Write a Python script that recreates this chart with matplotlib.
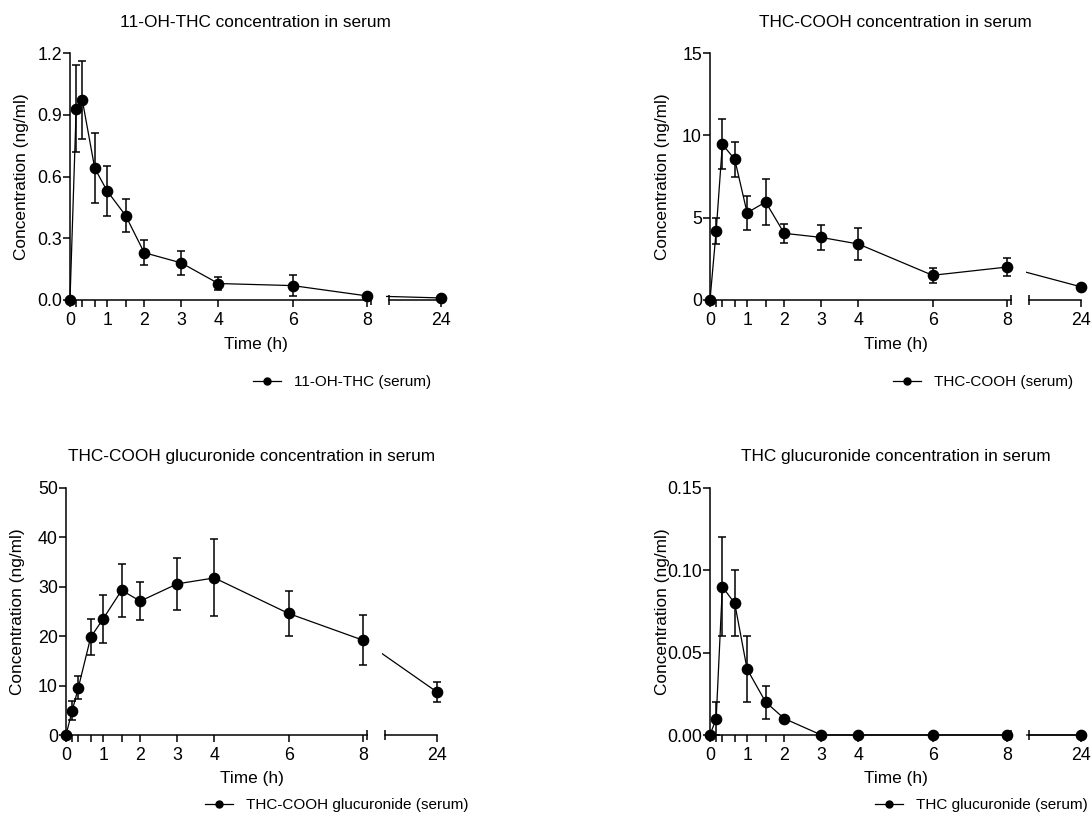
import numpy as np
import matplotlib
matplotlib.use("Agg")
import matplotlib.pyplot as plt
from matplotlib.lines import Line2D

plt.rcParams['font.family'] = ['Liberation Sans', 'DejaVu Sans']

# sampling times in hours (10, 20, 40 min ... 24 h)
times = [0, 1 / 6, 1 / 3, 2 / 3, 1, 1.5, 2, 3, 4, 6, 8, 24]

oh_thc = [0, 0.93, 0.97, 0.64, 0.53, 0.41, 0.23, 0.18, 0.08, 0.07, 0.02, 0.01]
oh_thc_sd = [0, 0.21, 0.19, 0.17, 0.12, 0.08, 0.06, 0.06, 0.03, 0.05, 0.01, 0.005]

cooh = [0, 4.2, 9.45, 8.55, 5.3, 5.95, 4.05, 3.8, 3.4, 1.5, 2.0, 0.8]
cooh_sd = [0, 0.77, 1.52, 1.06, 1.02, 1.42, 0.58, 0.75, 0.97, 0.44, 0.53, 0.1]

cooh_gluc = [0, 4.9, 9.6, 19.8, 23.5, 29.3, 27.1, 30.6, 31.8, 24.6, 19.2, 8.7]
cooh_gluc_sd = [0, 1.9, 2.3, 3.65, 4.8, 5.35, 3.8, 5.2, 7.8, 4.6, 5.0, 2.0]

thc_gluc = [0, 0.01, 0.09, 0.08, 0.04, 0.02, 0.01, 0, 0, 0, 0, 0]
thc_gluc_sd = [0, 0.01, 0.03, 0.02, 0.02, 0.01, 0, 0, 0, 0, 0, 0]

xticks = [0, 1, 2, 3, 4, 6, 8, 24]
xminor = [1 / 6, 1 / 3, 2 / 3, 1.5]


# broken time axis: 0-8 h linear, 8-24 h squeezed into two units
def fwd(t):
    t = np.asarray(t, dtype=float)
    return np.where(t <= 8, t, 8 + (t - 8) / 8)


def inv(p):
    p = np.asarray(p, dtype=float)
    return np.where(p <= 8, p, 8 + (p - 8) * 8)


W, H = 1092, 818
fig = plt.figure(figsize=(W / 100, H / 100), dpi=100)

panels = [
    dict(rect=(70, 53), y=oh_thc, sd=oh_thc_sd, ylim=1.2,
         yticks=[0, 0.3, 0.6, 0.9, 1.2], fmt='{:.1f}',
         title='11-OH-THC concentration in serum',
         label='11-OH-THC (serum)', leg=(253, 382)),
    dict(rect=(710, 53), y=cooh, sd=cooh_sd, ylim=15,
         yticks=[0, 5, 10, 15], fmt='{:.0f}',
         title='THC-COOH concentration in serum',
         label='THC-COOH (serum)', leg=(893, 382)),
    dict(rect=(66, 488), y=cooh_gluc, sd=cooh_gluc_sd, ylim=50,
         yticks=[0, 10, 20, 30, 40, 50], fmt='{:.0f}',
         title='THC-COOH glucuronide concentration in serum',
         label='THC-COOH glucuronide (serum)', leg=(205, 805)),
    dict(rect=(710, 488), y=thc_gluc, sd=thc_gluc_sd, ylim=0.15,
         yticks=[0, 0.05, 0.10, 0.15], fmt='{:.2f}',
         title='THC glucuronide concentration in serum',
         label='THC glucuronide (serum)', leg=(875, 805)),
]

aw, ah = 371, 247

for p in panels:
    x0, top = p['rect']
    ax = fig.add_axes([x0 / W, 1 - (top + ah) / H, aw / W, ah / H])
    ax.set_xscale('function', functions=(fwd, inv))
    ax.set_xlim(0, 24)
    ax.set_ylim(0, p['ylim'])

    # connecting line, hidden inside the axis break
    ax.plot(times, p['y'], color='black', lw=0.9, zorder=2, clip_on=False)
    ax.axvspan(9.04, 12.24, ymin=-0.05, ymax=1, color='white', zorder=2.5,
               lw=0, clip_on=False)
    ax.errorbar(times, p['y'], yerr=p['sd'], fmt='o', color='black',
                ms=7.4, elinewidth=1.1, capsize=3.0, capthick=1.1,
                zorder=3, clip_on=False)

    ax.spines['top'].set_visible(False)
    ax.spines['right'].set_visible(False)
    ax.spines['bottom'].set_visible(False)
    ax.spines['left'].set_linewidth(1.1)

    # two pieces of the x axis with break bars
    ax.plot([0, 8.8], [0, 0], color='black', lw=1.1, clip_on=False, zorder=2.6)
    ax.plot([12.72, 24], [0, 0], color='black', lw=1.1, clip_on=False, zorder=2.6)
    ax.plot([8.8, 12.72], [0, 0], ls='none', marker='|', ms=6.5, mew=1.1,
            color='black', clip_on=False, zorder=2.6)

    ax.set_xticks(xticks)
    ax.set_xticklabels([str(t) for t in xticks])
    ax.set_xticks(xminor, minor=True)
    ax.tick_params(axis='x', which='both', direction='out', length=5.3,
                   width=1.1, labelsize=12.8, pad=3)
    ax.set_yticks(p['yticks'])
    ax.set_yticklabels([p['fmt'].format(v) for v in p['yticks']])
    ax.tick_params(axis='y', direction='out', length=5.3, width=1.1,
                   labelsize=12.8, pad=0.5)

    ax.set_xlabel('Time (h)', fontsize=12.4)
    ax.xaxis.label.set_va('center')
    ax.xaxis.set_label_coords(0.5, -44 / ah)
    ax.set_ylabel('Concentration (ng/ml)', fontsize=12.4)
    ax.yaxis.label.set_va('center')
    ax.yaxis.set_label_coords(-48 / aw, 0.5)
    ax.set_title(p['title'], fontsize=12.4, y=1 + 31 / ah, va='center', pad=0)

    handle = Line2D([], [], color='black', lw=0.9, marker='o', ms=5)
    lx, ly = p['leg']
    ax.legend([handle], [p['label']], loc='center left',
              bbox_to_anchor=(lx / W, 1 - ly / H),
              bbox_transform=fig.transFigure, frameon=False,
              fontsize=11, handlelength=1.8, handletextpad=0.9,
              borderpad=0, borderaxespad=0)

fig.savefig('out.png', dpi=100)
